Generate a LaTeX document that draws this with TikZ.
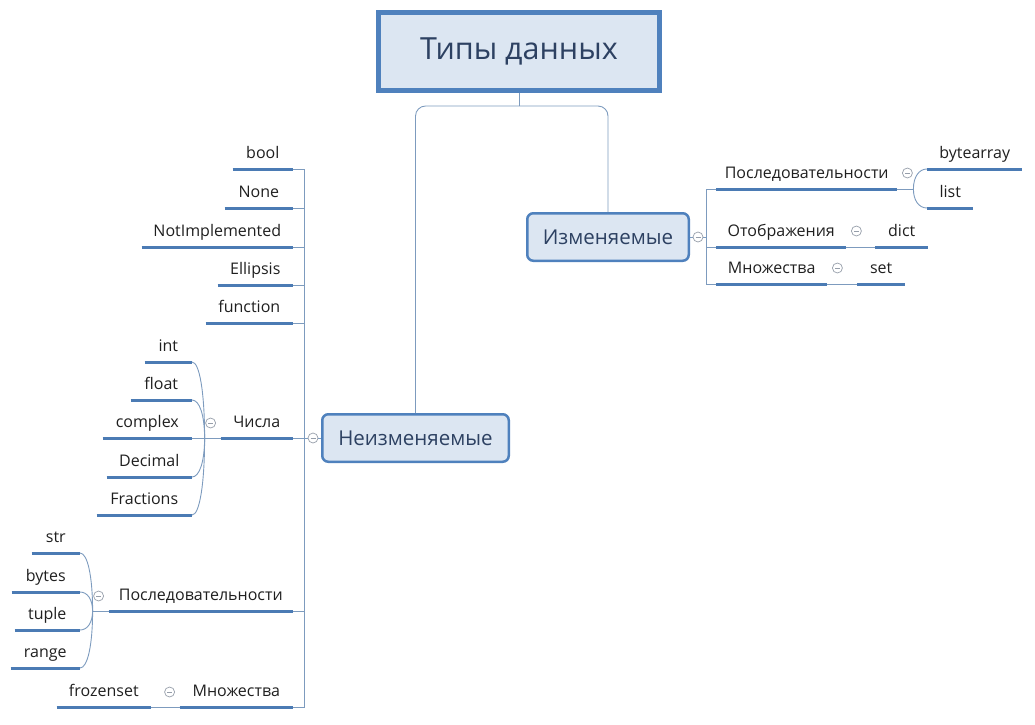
\documentclass[tikz,border=0pt]{standalone}
\usepackage{fontspec}
\setmainfont{Open Sans}
\usetikzlibrary{positioning,calc}
\definecolor{MapBlue}{RGB}{79,129,189}
\definecolor{MapFill}{RGB}{220,230,242}
\definecolor{MapLine}{RGB}{125,155,190}
\definecolor{MapText}{RGB}{45,65,98}
\definecolor{KnobGray}{RGB}{150,158,170}
\tikzset{
  rootbox/.style={rectangle,draw=MapBlue,line width=5pt,fill=MapFill,
    minimum width=281pt,minimum height=78pt,
    font=\fontsize{30.5}{36}\selectfont,text=MapText},
  mainbox/.style={rectangle,rounded corners=6pt,draw=MapBlue,line width=2.5pt,
    fill=MapFill,minimum height=47.5pt,
    font=\fontsize{20.5}{24}\selectfont,text=MapText},
  leaf/.style={rectangle,inner sep=0pt,text height=11pt,text depth=10pt,
    font=\fontsize{16}{19}\selectfont,text=black!88},
  uline/.style={line width=3pt,color=MapBlue!95!black},
  conn/.style={line width=0.9pt,color=MapLine},
  knob/.style={circle,draw=KnobGray,line width=0.7pt,fill=white,
    minimum size=10pt,inner sep=0pt,
    path picture={\draw[KnobGray,line width=0.7pt]
      ([xshift=2.5pt]path picture bounding box.west) --
      ([xshift=-2.5pt]path picture bounding box.east);}}
}

\begin{document}
\begin{tikzpicture}[x=1pt,y=-1pt]
  \useasboundingbox (0,0) rectangle (1035,724);
  % main topics
  \node[rootbox] (root) at (519,51.5) {Типы данных};
  \node[mainbox,minimum width=161.5pt] (mut) at (608,237) {Изменяемые};
  \node[mainbox,minimum width=186.5pt] (immut) at (415.5,438) {Неизменяемые};
  \draw[conn] (root.south) -- ++(0,13) coordinate (rt);
  \draw[conn,rounded corners=10pt] (rt) -| (mut.north);
  \draw[conn,rounded corners=10pt] (rt) -| (immut.north);
  \node[knob] (mutk) at (698,237) {};
  \node[knob] (immutk) at (313,438) {};
  \draw[conn] (mut.east) -- (mutk.west);
  \draw[conn] (immut.west) -- (immutk.east);

  % mutable branch
  \foreach \n/\t/\y/\w in {rseq/Последовательности/189/181,
      rmap/Отображения/247/130, rset/Множества/284/111}
    \node[leaf,minimum width=\w,anchor=south west] (\n) at (716,\y) {\t};
  \foreach \n/\t/\x/\y/\w in {bytearray/bytearray/927/169/95, list/list/927/208/46,
      dict/dict/875/247/53, set/set/857/284/48}
    \node[leaf,minimum width=\w,anchor=south west] (\n) at (\x,\y) {\t};
  \coordinate (rv) at ($(mutk.east)+(3,0)$);
  \draw[conn] (mutk.east) -- (rv);
  \foreach \n in {rseq,rmap,rset}
    \draw[conn] (rv) |- (\n.south west);
  \foreach \n in {rseq,rmap,rset}
    \node[knob] (\n k) at ($(\n.south east)+(10,-16)$) {};
  \draw[conn] (rmap.south east) -- (dict.south west);
  \draw[conn] (rset.south east) -- (set.south west);
  \coordinate (rj) at ($(rseq.south east)+(16,0)$);
  \draw[conn] (rseq.south east) -- (rj);
  \foreach \c in {bytearray,list}
    \draw[conn] (rj) .. controls ($(rj)!0.6!(rj|-\c.south west)$)
      and ($(\c.south west)!0.6!(rj|-\c.south west)$) .. (\c.south west);

  % immutable branch
  \foreach \n/\t/\y/\w in {bool/bool/169/60, none/None/208/68,
      notimpl/NotImplemented/247/151, ellipsis/Ellipsis/285/75,
      func/function/323/87, nums/Числа/438/72,
      lseq/Последовательности/611/184, lset/Множества/707/113}
    \node[leaf,minimum width=\w,anchor=south east] (\n) at (293,\y) {\t};
  \foreach \n/\t/\y/\w in {int/int/362/47, float/float/400/61,
      complex/complex/438/89, decimal/Decimal/477/85,
      fractions/Fractions/515/95}
    \node[leaf,minimum width=\w,anchor=south east] (\n) at (192,\y) {\t};
  \foreach \n/\t/\y/\w in {str/str/553/48, bytes/bytes/592/68,
      tuple/tuple/630/65, range/range/668/69}
    \node[leaf,minimum width=\w,anchor=south east] (\n) at (80,\y) {\t};
  \node[leaf,minimum width=94,anchor=south east] (frozenset) at (151,707) {frozenset};
  \coordinate (lv) at ($(immutk.west)+(-3,0)$);
  \draw[conn] (immutk.west) -- (lv);
  \foreach \n in {bool,none,notimpl,ellipsis,func,nums,lseq,lset}
    \draw[conn] (lv) |- (\n.south east);
  \foreach \n in {nums,lseq,lset}
    \node[knob] (\n k) at ($(\n.south west)+(-10,-15)$) {};
  \coordinate (nj) at ($(nums.south west)+(-16,0)$);
  \draw[conn] (nums.south west) -- (nj);
  \foreach \c in {int,float,complex,decimal,fractions}
    \draw[conn] (\c.south east) .. controls ($(\c.south east)!0.6!(nj|-\c.south east)$)
      and ($(nj)!0.6!(nj|-\c.south east)$) .. (nj);
  \coordinate (sj) at ($(lseq.south west)+(-16,0)$);
  \draw[conn] (lseq.south west) -- (sj);
  \foreach \c in {str,bytes,tuple,range}
    \draw[conn] (\c.south east) .. controls ($(\c.south east)!0.6!(sj|-\c.south east)$)
      and ($(sj)!0.6!(sj|-\c.south east)$) .. (sj);
  \draw[conn] (lset.south west) -- (frozenset.south east);

  % underlines
  \foreach \n in {rseq,rmap,rset,bytearray,list,dict,set,bool,none,notimpl,
      ellipsis,func,nums,lseq,lset,int,float,complex,decimal,fractions,
      str,bytes,tuple,range,frozenset}
    \draw[uline] (\n.south west) -- (\n.south east);
\end{tikzpicture}
\end{document}
